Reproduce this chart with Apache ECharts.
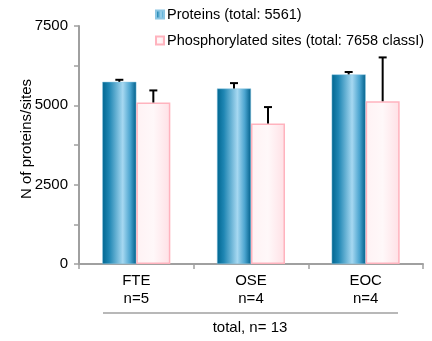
<!DOCTYPE html>
<html>
<head>
<meta charset="utf-8">
<script src="https://cdn.jsdelivr.net/npm/echarts@6/dist/echarts.min.js"></script>
<style>
  html, body { margin: 0; padding: 0; background: #fff; }
  #chart { width: 432px; height: 341px; }
</style>
</head>
<body>
<div id="chart"></div>
<script>
// 分组名称（x轴）
var groups = ["FTE\nn=5", "OSE\nn=4", "EOC\nn=4"];
// 蛋白数量及误差
var proteins = [5740, 5530, 5975];
var proteinsErr = [65, 170, 75];
// 磷酸化位点数量及误差
var sites = [5090, 4430, 5130];
var sitesErr = [380, 515, 1380];
// y轴刻度
var yTicks = [0, 2500, 5000, 7500];

var seriesNames = ["Proteins (total: 5561)", "Phosphorylated sites (total: 7658 classI)"];

var chart = echarts.init(document.getElementById("chart"));

// 蓝色柱子的横向渐变
var blueFill = new echarts.graphic.LinearGradient(0, 0, 1, 0, [
  { offset: 0, color: "#006690" },
  { offset: 0.2, color: "#1f86b3" },
  { offset: 0.6, color: "#a6d8f1" },
  { offset: 0.82, color: "#4aa4cf" },
  { offset: 1, color: "#005f8a" }
]);
// 粉色柱子
var pinkFill = new echarts.graphic.LinearGradient(0, 0, 1, 0, [
  { offset: 0, color: "#fff2f4" },
  { offset: 0.5, color: "#fff8f9" },
  { offset: 1, color: "#ffe0e5" }
]);

// 误差棒（只画向上的一半）
function errorBar(values, errs, offset) {
  var data = values.map(function (v, i) { return [i, v, v + errs[i]]; });
  return {
    type: "custom",
    silent: true,
    z: 5,
    data: data,
    renderItem: function (params, api) {
      var lo = api.coord([api.value(0), api.value(1)]);
      var hi = api.coord([api.value(0), api.value(2)]);
      var x = lo[0] + offset;
      var style = { stroke: "#000", lineWidth: 2 };
      return {
        type: "group",
        children: [
          { type: "line", shape: { x1: x, y1: lo[1], x2: x, y2: hi[1] }, style: style },
          { type: "line", shape: { x1: x - 4, y1: hi[1], x2: x + 4, y2: hi[1] }, style: style }
        ]
      };
    }
  };
}

var font = "Liberation Sans, Arial, sans-serif";

var option = {
  animation: false,
  textStyle: { fontFamily: font },
  grid: { left: 79, right: 9, top: 26, bottom: 77 },
  legend: {
    orient: "vertical",
    left: 150,
    top: 2,
    itemWidth: 8,
    itemHeight: 8,
    itemGap: 11,
    icon: "rect",
    textStyle: { fontSize: 14.5, color: "#000", fontFamily: font, padding: [0, 0, 0, -2] },
    data: seriesNames
  },
  xAxis: {
    type: "category",
    data: groups,
    axisLine: { lineStyle: { color: "#a0a0a0", width: 2 } },
    axisTick: { show: true, length: 5, lineStyle: { color: "#a0a0a0", width: 1.5 } },
    axisLabel: { color: "#000", fontSize: 15, margin: 8, lineHeight: 18 }
  },
  yAxis: {
    type: "value",
    min: 0,
    max: 7500,
    interval: 1250,
    name: "N of proteins/sites",
    nameLocation: "middle",
    nameGap: 45,
    nameMoveOverlap: false,
    nameTextStyle: { color: "#000", fontSize: 15, padding: [0, 0, 0, 12] },
    splitLine: { show: false },
    axisLine: { show: true, lineStyle: { color: "#a0a0a0", width: 2 } },
    axisTick: { show: true, length: 5, lineStyle: { color: "#a0a0a0", width: 1.5 } },
    axisLabel: {
      color: "#000",
      fontSize: 15,
      margin: 11,
      formatter: function (v) { return yTicks.indexOf(v) >= 0 ? String(v) : ""; }
    }
  },
  graphic: [
    {
      type: "line",
      shape: { x1: 103, y1: 313, x2: 398, y2: 313 },
      style: { stroke: "#a0a0a0", lineWidth: 1.5 }
    },
    {
      type: "text",
      x: 250,
      y: 328,
      style: { text: "total, n= 13", fill: "#000", font: "15px " + font, align: "center", verticalAlign: "middle" }
    }
  ],
  series: [
    {
      name: seriesNames[0],
      type: "bar",
      data: proteins,
      barWidth: 34,
      barGap: "0%",
      itemStyle: { color: blueFill, borderColor: "#8cc6e3", borderWidth: 0.5 }
    },
    {
      name: seriesNames[1],
      type: "bar",
      data: sites,
      barWidth: 34,
      itemStyle: { color: pinkFill, borderColor: "#ffb3be", borderWidth: 1.5 }
    },
    errorBar(proteins, proteinsErr, -17),
    errorBar(sites, sitesErr, 17)
  ]
};

chart.setOption(option);
</script>
</body>
</html>
